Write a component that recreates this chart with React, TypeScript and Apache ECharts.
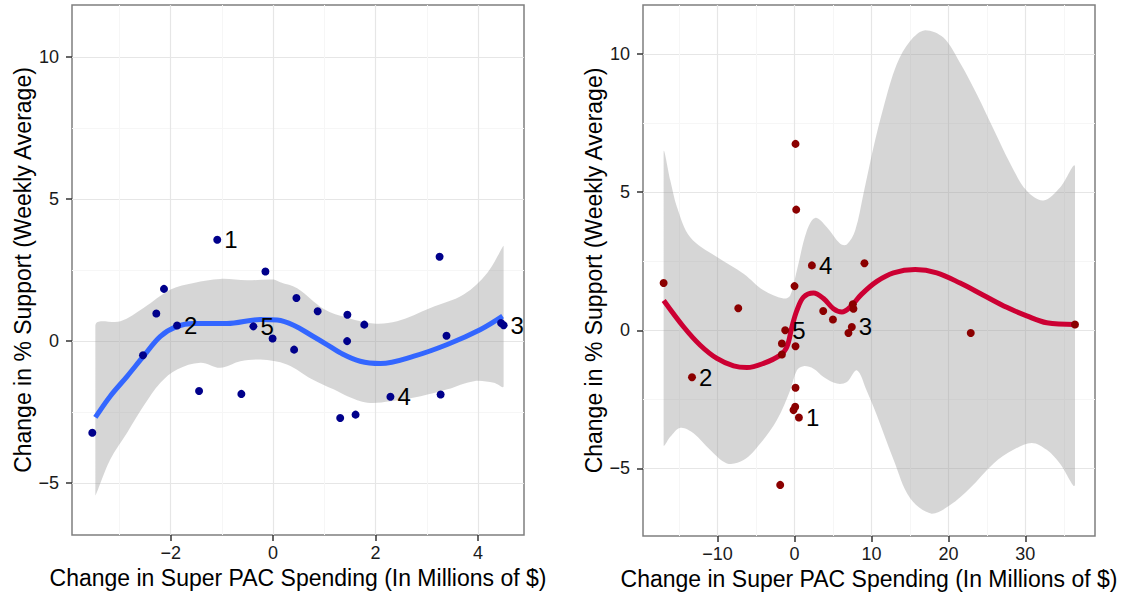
import React, { useEffect, useRef } from "react";
import * as echarts from "echarts";

// ---------- Left panel data ----------
const leftPointX = [-3.53, -2.54, -2.28, -2.13, -1.875, -1.445, -1.09, -0.62, -0.385, -0.15, -0.01, 0.41, 0.455, 0.87, 1.31, 1.445, 1.45, 1.61, 1.78, 2.29, 3.25, 3.27, 3.385, 4.45, 4.5];
const leftPointY = [-3.24, -0.51, 0.96, 1.83, 0.54, -1.77, 3.56, -1.87, 0.51, 2.44, 0.08, -0.31, 1.51, 1.04, -2.72, -0.01, 0.92, -2.6, 0.57, -1.97, 2.96, -1.89, 0.18, 0.63, 0.55];
const leftPointLabel = ["", "", "", "", "2", "", "1", "", "5", "", "", "", "", "", "", "", "", "", "", "4", "", "", "", "", "3"];

const leftFitX = [-3.47, -3.18, -2.85, -2.53, -2.2, -1.875, -1.55, -0.9, -0.25, 0.08, 0.4, 0.76, 1.05, 1.31, 1.7, 2.1, 2.75, 3.4, 4.05, 4.48];
const leftFitY = [-2.7, -1.95, -1.25, -0.54, 0.16, 0.51, 0.61, 0.61, 0.75, 0.73, 0.55, 0.18, -0.13, -0.42, -0.72, -0.8, -0.54, -0.13, 0.4, 0.87];

const leftUpperX = [-3.47, -2.98, -2.53, -2.0, -1.55, -1.03, -0.51, 0.01, 0.14, 0.47, 0.99, 1.45, 1.96, 2.42, 3.07, 3.72, 4.18, 4.5];
const leftUpperY = [0.55, 0.69, 1.16, 1.81, 2.04, 2.18, 2.13, 2.16, 2.06, 1.85, 1.12, 0.81, 0.61, 0.69, 1.16, 1.63, 2.39, 3.35];
const leftLowerX = [-3.47, -3.18, -2.85, -2.53, -2.2, -1.875, -1.42, -1.03, -0.64, -0.25, 0.27, 0.76, 1.18, 1.45, 1.84, 2.29, 2.88, 3.4, 3.92, 4.31, 4.5];
const leftLowerY = [-5.45, -4.18, -3.24, -2.3, -1.48, -1.01, -0.77, -0.95, -0.72, -0.66, -0.83, -1.35, -1.71, -1.95, -2.18, -2.13, -1.95, -1.71, -1.42, -1.48, -1.6];

const leftXTicks = [-2, 0, 2, 4];
const leftYTicks = [-5, 0, 5, 10];

// ---------- Right panel data ----------
const rightPointX = [-17.01, -13.32, -7.31, -1.86, -1.64, -1.64, -1.21, 0, 0.13, 0.13, 0.22, 0.13, 0.09, -0.13, 0.57, 2.26, 3.73, 4.99, 7.01, 7.45, 7.58, 7.66, 9.09, 22.9, 36.45];
const rightPointY = [1.71, -1.7, 0.8, -5.6, -0.88, -0.48, 0.0, 1.6, -0.58, 6.75, 4.37, -2.08, -2.77, -2.89, -3.16, 2.35, 0.7, 0.39, -0.1, 0.12, 0.94, 0.78, 2.43, -0.1, 0.21];
const rightPointLabel = ["", "2", "", "", "", "", "5", "", "", "", "", "", "", "", "1", "4", "", "", "", "3", "", "", "", "", ""];

const rightFitX = [-17.0, -14.4, -12.25, -10.08, -7.92, -6.18, -4.03, -1.86, -0.99, -0.34, 0.31, 1.17, 2.47, 3.77, 5.06, 6.16, 7.23, 8.7, 10.7, 12.86, 15.68, 18.49, 21.52, 24.55, 27.58, 30.18, 32.78, 36.45];
const rightFitY = [1.08, 0.12, -0.54, -1.02, -1.29, -1.35, -1.2, -0.9, -0.6, 0.12, 0.72, 1.2, 1.35, 1.15, 0.78, 0.66, 0.84, 1.3, 1.77, 2.08, 2.2, 2.08, 1.71, 1.27, 0.83, 0.52, 0.27, 0.21];

const rightUpperX = [-17.01, -16.14, -15.27, -13.55, -10.08, -6.62, -4.03, -1.43, -0.56, 0.31, 1.61, 2.69, 4.21, 5.94, 6.8, 7.88, 8.96, 10.26, 11.56, 13.3, 15.03, 16.98, 19.35, 21.52, 23.69, 25.84, 28.01, 30.18, 32.34, 34.51, 36.45];
const rightUpperY = [6.44, 5.42, 4.46, 3.37, 2.65, 2.05, 1.45, 1.15, 1.26, 2.17, 3.61, 4.07, 3.73, 3.13, 3.11, 3.61, 4.94, 6.62, 8.07, 9.64, 10.48, 10.87, 10.6, 9.68, 8.55, 7.3, 6.05, 5.05, 4.7, 5.17, 5.92];
const rightLowerX = [-17.01, -16.14, -14.84, -13.12, -10.95, -8.78, -6.62, -4.45, -2.29, -0.56, 0.31, 1.17, 2.47, 3.77, 5.51, 6.81, 8.1, 9.4, 10.7, 12.9, 15.03, 17.84, 20.22, 22.82, 25.84, 28.44, 30.83, 32.78, 34.51, 36.45];
const rightLowerY = [-4.16, -3.86, -3.53, -3.73, -4.34, -4.82, -4.7, -4.1, -3.25, -2.17, -1.45, -1.3, -1.39, -1.69, -1.93, -1.87, -1.45, -2.2, -3.08, -4.71, -6.08, -6.64, -6.33, -5.71, -4.83, -4.33, -4.08, -4.33, -4.83, -5.58];

const rightXTicks = [-10, 0, 10, 20, 30];
const rightYTicks = [-5, 0, 5, 10];

const xTitle = "Change in Super PAC Spending (In Millions of $)";
const yTitle = "Change in % Support (Weekly Average)";

const FONT = "Liberation Sans, Arial, Helvetica, sans-serif";

const zip = (xs: number[], ys: number[]) => xs.map((x, i) => [x, ys[i]]);
const fmt = (v: number) => String(v).replace("-", "\u2212");

function xAxisCfg(gridIndex: number, min: number, max: number, ticks: number[], splitNumber: number) {
  return {
    type: "value",
    gridIndex,
    min,
    max,
    splitNumber,
    name: xTitle,
    nameLocation: "middle",
    nameGap: 31,
    nameTextStyle: { fontFamily: FONT, fontSize: 23, color: "#000" },
    axisLine: { show: false, onZero: false },
    axisTick: { show: true, length: 6, customValues: ticks, lineStyle: { color: "#333", width: 1.5 } },
    axisLabel: { customValues: ticks, fontFamily: FONT, fontSize: 18, color: "#1a1a1a", margin: 9, formatter: fmt },
    splitLine: { show: true, lineStyle: { color: "#E6E6E6", width: 1.2 } },
    minorTick: { show: false, splitNumber: 2 },
    minorSplitLine: { show: true, lineStyle: { color: "#F6F6F6", width: 1 } },
  };
}

function yAxisCfg(gridIndex: number, min: number, max: number, ticks: number[], splitNumber: number) {
  return {
    type: "value",
    gridIndex,
    min,
    max,
    splitNumber,
    name: yTitle,
    nameLocation: "middle",
    nameGap: 38,
    nameTextStyle: { fontFamily: FONT, fontSize: 23, color: "#000" },
    axisLine: { show: false, onZero: false },
    axisTick: { show: true, length: 6, customValues: ticks, lineStyle: { color: "#333", width: 1.5 } },
    axisLabel: { customValues: ticks, fontFamily: FONT, fontSize: 18, color: "#1a1a1a", margin: 13, formatter: fmt },
    splitLine: { show: true, lineStyle: { color: "#E6E6E6", width: 1.2 } },
    minorTick: { show: false, splitNumber: 2 },
    minorSplitLine: { show: true, lineStyle: { color: "#F6F6F6", width: 1 } },
  };
}

function ribbonSeries(idx: number, ux: number[], uy: number[], lx: number[], ly: number[]) {
  const upper = zip(ux, uy);
  const lower = zip(lx, ly).reverse();
  return {
    type: "custom",
    xAxisIndex: idx,
    yAxisIndex: idx,
    silent: true,
    z: 2,
    data: [[ux[0], uy[0]]],
    renderItem: (_params: any, api: any) => {
      const pts = [...upper, ...lower].map((p) => api.coord(p));
      let x0 = Infinity, y0 = Infinity, x1 = -Infinity, y1 = -Infinity;
      pts.forEach((p: number[]) => {
        x0 = Math.min(x0, p[0]); x1 = Math.max(x1, p[0]);
        y0 = Math.min(y0, p[1]); y1 = Math.max(y1, p[1]);
      });
      return {
        type: "polygon",
        shape: { points: pts, smooth: 0.35, smoothConstraint: [[x0, y0], [x1, y1]] },
        style: { fill: "rgba(153,153,153,0.4)", stroke: "none" },
      };
    },
  };
}

function fitSeries(idx: number, xs: number[], ys: number[], color: string) {
  return {
    type: "line",
    xAxisIndex: idx,
    yAxisIndex: idx,
    data: zip(xs, ys),
    smooth: 0.35,
    showSymbol: false,
    silent: true,
    z: 3,
    lineStyle: { color, width: 5, cap: "butt" },
  };
}

function pointSeries(idx: number, xs: number[], ys: number[], labels: string[], color: string) {
  return {
    type: "scatter",
    xAxisIndex: idx,
    yAxisIndex: idx,
    symbolSize: 8,
    z: 4,
    itemStyle: { color, opacity: 1 },
    data: xs.map((x, i) => ({
      value: [x, ys[i]],
      label: {
        show: labels[i] !== "",
        formatter: labels[i],
        position: "right",
        distance: 3,
        fontFamily: FONT,
        fontSize: 24,
        color: "#000",
      },
    })),
  };
}

export default function App() {
  const ref = useRef<HTMLDivElement>(null);
  useEffect(() => {
    if (!ref.current) return;
    const chart = echarts.init(ref.current, undefined, { renderer: "svg" });
    const gridCommon = { show: true, borderColor: "#7F7F7F", borderWidth: 1.5, backgroundColor: "#fff", containLabel: false };
    chart.setOption({
      animation: false,
      backgroundColor: "#fff",
      textStyle: { fontFamily: FONT },
      grid: [
        { ...gridCommon, left: 72, top: 5, width: 452, height: 530 },
        { ...gridCommon, left: 643, top: 5, width: 452, height: 531 },
      ],
      xAxis: [xAxisCfg(0, -3.926, 4.898, leftXTicks, 5), xAxisCfg(1, -19.69, 39.05, rightXTicks, 5)],
      yAxis: [yAxisCfg(0, -6.84, 11.83, leftYTicks, 4), yAxisCfg(1, -7.45, 11.78, rightYTicks, 4)],
      series: [
        ribbonSeries(0, leftUpperX, leftUpperY, leftLowerX, leftLowerY),
        fitSeries(0, leftFitX, leftFitY, "#3366FF"),
        pointSeries(0, leftPointX, leftPointY, leftPointLabel, "#00008B"),
        ribbonSeries(1, rightUpperX, rightUpperY, rightLowerX, rightLowerY),
        fitSeries(1, rightFitX, rightFitY, "#CC0033"),
        pointSeries(1, rightPointX, rightPointY, rightPointLabel, "#8B0000"),
      ],
    });
    return () => chart.dispose();
  }, []);
  return (
    <div
      ref={ref}
      style={{ position: "fixed", left: 0, top: 0, width: 1125, height: 596, background: "#fff" }}
    />
  );
}
